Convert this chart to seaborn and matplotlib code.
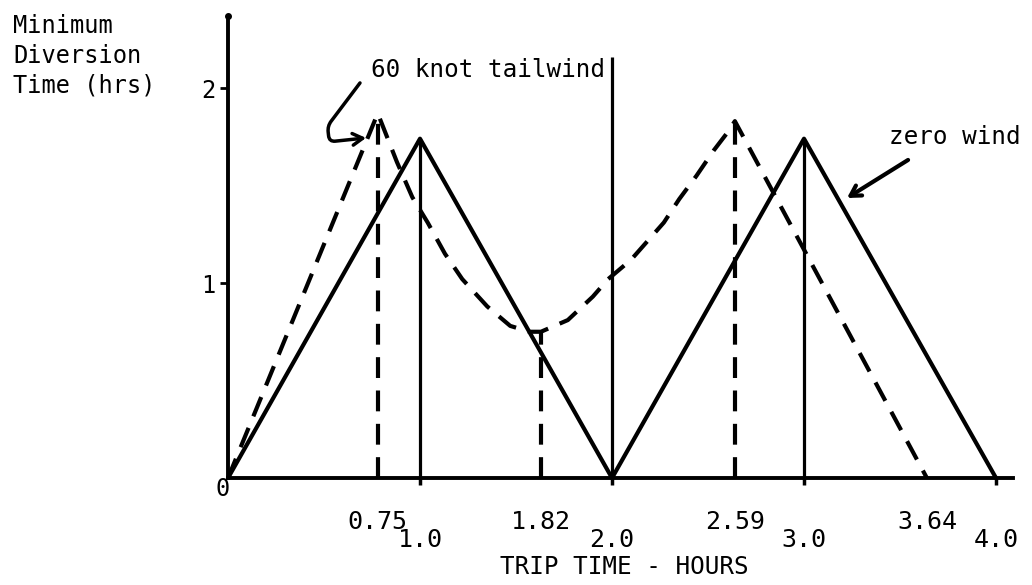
import matplotlib
matplotlib.use("Agg")
import matplotlib.pyplot as plt
import seaborn as sns

# zero wind (solid line)
zero_x = [0.0, 1.0, 2.0, 3.0, 4.0]
zero_y = [0.0, 1.74, 0.0, 1.74, 0.0]

# 60 knot tailwind (dashed line)
tail_x = [0.0, 0.78, 0.88, 0.96, 1.04, 1.13, 1.22, 1.35, 1.47, 1.57, 1.63,
          1.77, 1.90, 1.98, 2.10, 2.27, 2.35, 2.44, 2.53, 2.60, 2.64, 3.64]
tail_y = [0.0, 1.87, 1.62, 1.44, 1.31, 1.15, 1.02, 0.88, 0.78, 0.75, 0.75,
          0.81, 0.93, 1.02, 1.12, 1.31, 1.43, 1.55, 1.68, 1.77, 1.83, 0.0]

# vertical drop lines
solid_vx = [1.0, 2.0, 3.0]
solid_vtop = [1.74, 2.16, 1.74]
dash_vx = [0.78, 1.63, 2.64]
dash_vtop = [1.87, 0.75, 1.83]

# ticks
major_ticks = [1.0, 2.0, 3.0, 4.0]
major_labels = ["1.0", "2.0", "3.0", "4.0"]
minor_ticks = [0.78, 1.63, 2.64, 3.64]
minor_labels = ["0.75", "1.82", "2.59", "3.64"]
y_ticks = [1, 2]
y_labels = ["1", "2"]

sns.set_theme(style="white")
plt.rcParams["font.family"] = ["DejaVu Sans Mono", "DejaVu Sans"]
plt.rcParams["text.color"] = "black"
plt.rcParams["axes.labelcolor"] = "black"

fig = plt.figure(figsize=(10.32, 5.85), dpi=100)
ax = fig.add_axes([0, 0, 1, 1])
ax.set_facecolor("white")

dash = (0, (5, 3))
sns.lineplot(x=zero_x, y=zero_y, sort=False, estimator=None, color="black",
             linewidth=3, ax=ax)
sns.lineplot(x=tail_x, y=tail_y, sort=False, estimator=None, color="black",
             linewidth=3, linestyle=dash, ax=ax)
ax.vlines(solid_vx, 0, solid_vtop, colors="black", linewidth=2.3)
ax.vlines(dash_vx, 0, dash_vtop, colors="black", linewidth=3, linestyles=[dash])

ax.set_xlim(-1.1875, 4.1875)
ax.set_ylim(-0.5487, 2.4513)

# axes lines
for s in ["top", "right"]:
    ax.spines[s].set_visible(False)
ax.spines["left"].set_position(("data", 0))
ax.spines["bottom"].set_position(("data", 0))
ax.spines["left"].set_bounds(0, 2.37)
ax.spines["bottom"].set_bounds(0, 4.09)
for s in ["left", "bottom"]:
    ax.spines[s].set_color("black")
    ax.spines[s].set_linewidth(2.8)
ax.plot([0], [2.37], marker="o", markersize=4, color="black", clip_on=False)

ax.set_yticks(y_ticks, y_labels)
ax.tick_params(axis="y", direction="out", length=6, width=2, pad=3,
               labelsize=17, colors="black", left=True)
ax.set_xticks(major_ticks, major_labels)
ax.set_xticks(minor_ticks, minor_labels, minor=True)
ax.tick_params(axis="x", which="major", direction="out", length=5, width=2.5,
               pad=31, labelsize=18, colors="black", bottom=True)
ax.tick_params(axis="x", which="minor", length=0, pad=23, labelsize=18,
               colors="black")

ax.annotate("0", xy=(0, 0), xytext=(-5, -11), textcoords="offset pixels",
            ha="center", va="center", fontsize=17, color="black")

ax.set_xlabel("TRIP TIME - HOURS", fontsize=17.5, color="black")
ax.xaxis.set_label_coords(624 / 1032, 1 - 567 / 585)
ax.xaxis.label.set_va("center")

ax.set_ylabel("Minimum\nDiversion\nTime (hrs)", rotation=0, ha="left",
              va="center", fontsize=17, linespacing=1.3, color="black")
ax.yaxis.set_label_coords(13 / 1032, 1 - 56 / 585)

# hand-drawn annotations
ax.text(1.354, 2.092, "60 knot tailwind", ha="center", va="center",
        fontsize=17.5, color="black")
ax.annotate("", xy=(0.719, 1.744), xytext=(0.6875, 2.026),
            arrowprops=dict(arrowstyle="->,head_length=0.6,head_width=0.35",
                            connectionstyle="arc,angleA=-127,armA=54,angleB=186,armB=37,rad=6",
                            color="black", lw=2.5, shrinkA=0, shrinkB=0))

ax.text(3.786, 1.749, "zero wind", ha="center", va="center", fontsize=17.5,
        color="black")
ax.annotate("", xy=(3.224, 1.436), xytext=(3.542, 1.631),
            arrowprops=dict(arrowstyle="->,head_length=0.6,head_width=0.35",
                            color="black", lw=3, shrinkA=0, shrinkB=0))

fig.savefig("out.png", dpi=100)
